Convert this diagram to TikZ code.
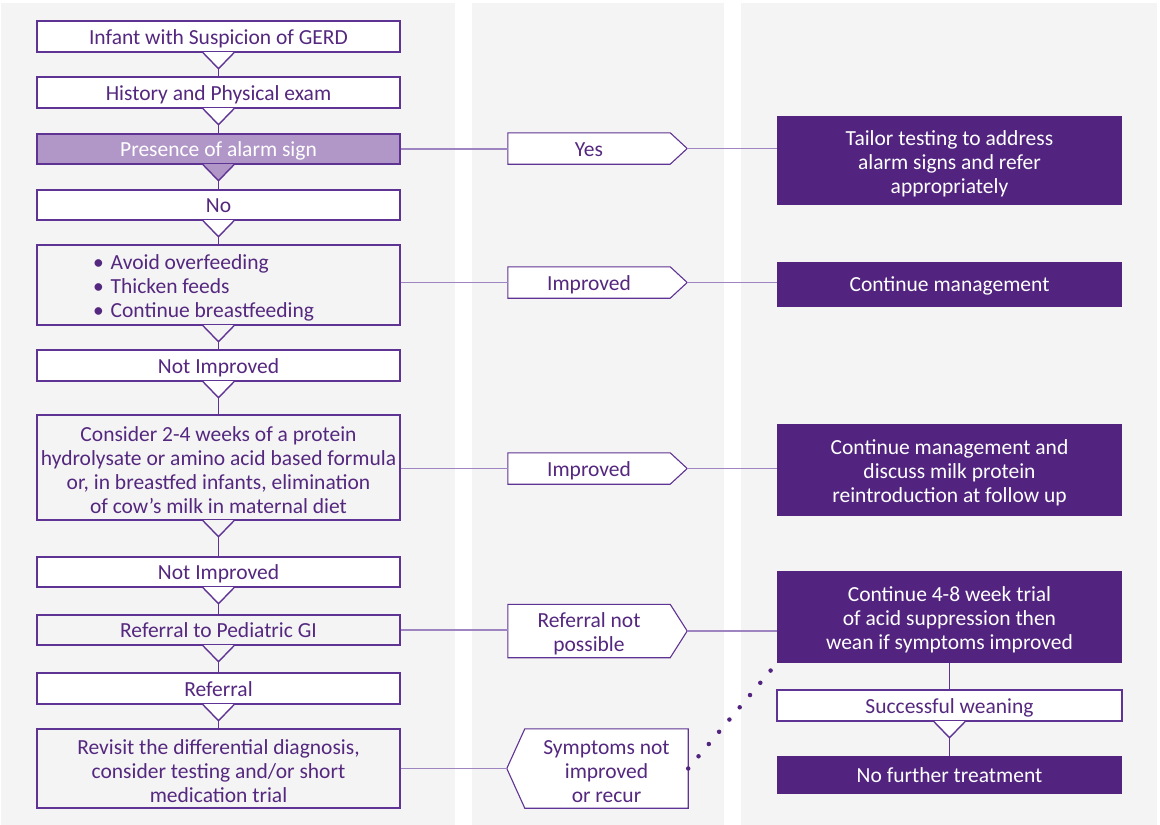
\documentclass[tikz,border=0pt]{standalone}
\usepackage{fontspec}
\setmainfont{Carlito}
\usetikzlibrary{calc}

\definecolor{panelgray}{HTML}{F4F4F4}
\definecolor{deeppurple}{HTML}{52247F}
\definecolor{lavender}{HTML}{B197C7}
\definecolor{edgepurple}{HTML}{5F3393}
\definecolor{tiepurple}{HTML}{9F84C2}
\definecolor{textpurple}{HTML}{55287F}

% pushes the first line of a multi-line box down a little
\newcommand\liftline{\rule{0pt}{20.5pt}}

\begin{document}
\begin{tikzpicture}[
                        x=1pt,
                        y=-1pt,
                        font=\fontsize{21.5}{24}\selectfont
                    ]

    \tikzstyle{every node}=[text=textpurple,align=center,inner sep=0pt]
    \tikzstyle{oneline}=[text height=15pt,text depth=0pt]
    \tikzstyle{flowbox}=[draw=edgepurple,line width=1.4pt,minimum width=363pt]
    \tikzstyle{darkbox}=[fill=deeppurple,text=white,minimum width=345pt]
    \tikzstyle{tagbox}=[fill=white,minimum width=162pt]
    \tikzstyle{tagline}=[draw=edgepurple,line width=1.1pt]
    \tikzstyle{vlink}=[draw=edgepurple,line width=1.2pt]
    \tikzstyle{hlink}=[draw=tiepurple,line width=1.4pt]
    \tikzstyle{dotlink}=[draw=deeppurple,line width=4.5pt,line cap=round,dash pattern=on 0pt off 16pt,shorten >=9pt]

    % three background columns
    \useasboundingbox (0,0) rectangle (1160,825);
    \fill[panelgray] (1,3)   rectangle (455,825);
    \fill[panelgray] (472,3) rectangle (724,825);
    \fill[panelgray] (741,3) rectangle (1157,825);

    % left column
    \node[flowbox,oneline,fill=white,minimum height=31pt]             (infant)   at (218.5,36.5)  {Infant with Suspicion of GERD};
    \node[flowbox,oneline,fill=white,minimum height=31pt]             (history)  at (218.5,92.5)  {History and Physical exam};
    \node[flowbox,oneline,fill=lavender,text=white,minimum height=30pt] (alarm)  at (218.5,149)   {Presence of alarm sign};
    \node[flowbox,oneline,fill=white,minimum height=30pt]             (no)       at (218.5,205)   {No};
    \node[flowbox,minimum height=80pt,text width=251pt,align=flush left,inner xsep=56pt] (measures) at (218.5,285)
        {\liftline\textbullet\hspace{7pt}Avoid overfeeding\\ \textbullet\hspace{7pt}Thicken feeds\\ \textbullet\hspace{7pt}Continue breastfeeding};
    \node[flowbox,oneline,fill=white,minimum height=31pt]             (notimpA)  at (218.5,365.5) {Not Improved};
    \node[flowbox,minimum height=105pt]                               (consider) at (218.5,467.5)
        {\liftline Consider 2-4 weeks of a protein\\hydrolysate or amino acid based formula\\or, in breastfed infants, elimination\\of cow's milk in maternal diet};
    \node[flowbox,oneline,fill=white,minimum height=30pt]             (notimpB)  at (218.5,572)   {Not Improved};
    \node[flowbox,oneline,minimum height=30pt]                        (gi)       at (218.5,630)   {Referral to Pediatric GI};
    \node[flowbox,oneline,fill=white,minimum height=31pt]             (referral) at (218.5,688.5) {Referral};
    \node[flowbox,minimum height=79pt]                                (revisit)  at (218.5,768.5)
        {\liftline Revisit the differential diagnosis,\\consider testing and/or short\\medication trial};

    % right column
    \node[darkbox,minimum height=89pt]           (tailor)     at (949.5,160.5) {\liftline Tailor testing to address\\alarm signs and refer\\appropriately};
    \node[darkbox,oneline,minimum height=44.5pt] (contmgmt)   at (949.5,284.3) {Continue management};
    \node[darkbox,minimum height=92pt]           (milkprot)   at (949.5,470)   {\liftline Continue management and\\discuss milk protein\\reintroduction at follow up};
    \node[darkbox,minimum height=92pt]           (acidtrial)  at (949.5,617)   {\liftline Continue 4-8 week trial\\of acid suppression then\\wean if symptoms improved};
    \node[flowbox,oneline,fill=white,minimum width=345pt,minimum height=31pt] (weaning) at (949.5,705.5) {Successful weaning};
    \node[darkbox,oneline,minimum height=38pt]   (nofurther)  at (949.5,775)   {No further treatment};

    % middle tags
    \node[tagbox,oneline,minimum height=31pt] (yes)         at (589,148.5)   {Yes};
    \node[tagbox,oneline,minimum height=31pt] (improvedA)   at (589,282.5)   {Improved};
    \node[tagbox,oneline,minimum height=31pt] (improvedB)   at (589,468.5)   {Improved};
    \node[tagbox,minimum height=53pt]         (notpossible) at (589,631)     {\liftline Referral not\\possible};
    \node[tagbox,minimum height=79pt,minimum width=163pt] (symptoms) at (606.5,768.5) {\liftline Symptoms not\\improved\\or recur};

    % links down the left column
    \foreach \a/\b in {infant/history,history/alarm,alarm/no,no/measures,measures/notimpA,
                       notimpA/consider,consider/notimpB,notimpB/gi,gi/referral,referral/revisit}
        \draw[vlink] (\a.south) -- (\b.north);
    \draw[vlink] (acidtrial.south) -- (weaning.north);
    \draw[vlink] (weaning.south) -- (nofurther.north);

    % notches under the boxes
    \foreach \nm/\clr in {infant/white,history/white,alarm/lavender,no/white,measures/panelgray,
                          notimpA/white,consider/panelgray,notimpB/white,gi/panelgray,referral/white,weaning/white}
    {
        \fill[\clr] ($(\nm.south)+(-15.5,-0.7)$) -- ($(\nm.south)+(0,16)$) -- ($(\nm.south)+(15.5,-0.7)$) -- cycle;
        \draw[edgepurple,line width=1.4pt] ($(\nm.south)+(-15.5,0)$) -- ($(\nm.south)+(0,16)$) -- ($(\nm.south)+(15.5,0)$);
    }

    % pointed tags
    \foreach \tg in {yes,improvedA,improvedB,notpossible}
    {
        \coordinate (\tg-tip) at ($(\tg.east)+(17,0)$);
        \fill[white] (\tg.north east) -- (\tg-tip) -- (\tg.south east) -- cycle;
        \draw[tagline] (\tg.north west) -- (\tg.north east) -- (\tg-tip) -- (\tg.south east) -- (\tg.south west) -- cycle;
    }
    \coordinate (symptoms-tip) at ($(symptoms.west)+(-18,0)$);
    \fill[white] (symptoms.north west) -- (symptoms-tip) -- (symptoms.south west) -- cycle;
    \draw[tagline] (symptoms.north east) -- (symptoms.north west) -- (symptoms-tip) -- (symptoms.south west) -- (symptoms.south east) -- cycle;

    % links across
    \draw[hlink] (alarm.east) -- (alarm.east -| yes.west);
    \draw[hlink] (yes-tip) -- (yes-tip -| tailor.west);
    \draw[hlink] (improvedA.west -| measures.east) -- (improvedA.west);
    \draw[hlink] (improvedA-tip) -- (improvedA-tip -| contmgmt.west);
    \draw[hlink] (improvedB.west -| consider.east) -- (improvedB.west);
    \draw[hlink] (improvedB-tip) -- (improvedB-tip -| milkprot.west);
    \draw[hlink] (gi.east) -- (gi.east -| notpossible.west);
    \draw[hlink] (notpossible-tip) -- (notpossible-tip -| acidtrial.west);
    \draw[hlink] (revisit.east) -- (symptoms-tip);
    \draw[dotlink] (symptoms.east) -- (acidtrial.south west);
\end{tikzpicture}
\end{document}
